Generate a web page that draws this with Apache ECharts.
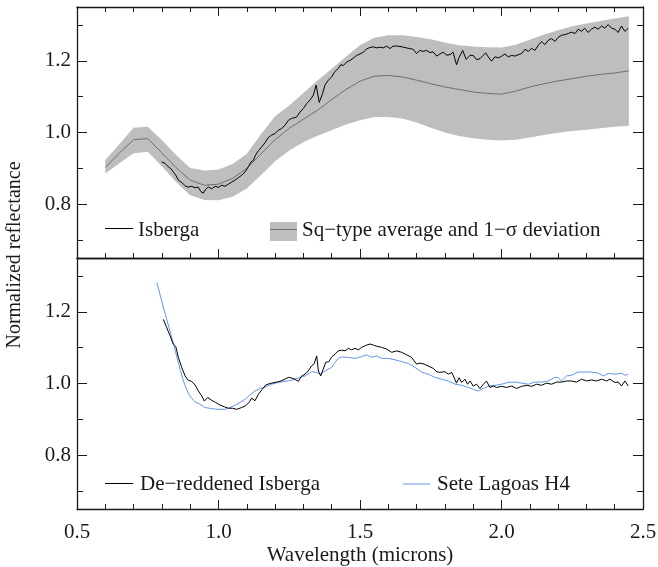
<!DOCTYPE html>
<html>
<head>
<meta charset="utf-8">
<script src="https://cdn.jsdelivr.net/npm/echarts@6/dist/echarts.min.js"></script>
<style>
html,body{margin:0;padding:0;background:#fff;}
#chart{width:658px;height:567px;}
</style>
</head>
<body>
<div id="chart"></div>
<script>
// ---- Sq-type average and 1-sigma band (top panel) ----
const sqWl = [0.60,0.65,0.70,0.75,0.80,0.85,0.90,0.95,1.00,1.05,1.10,1.15,1.20,1.25,1.30,1.35,1.40,1.45,1.50,1.55,1.60,1.65,1.70,1.75,1.80,1.85,1.90,1.95,2.00,2.05,2.10,2.15,2.20,2.25,2.30,2.35,2.40,2.45];
const sqMean = [0.902,0.943,0.980,0.983,0.943,0.902,0.867,0.853,0.856,0.872,0.900,0.940,0.980,1.012,1.037,1.062,1.092,1.120,1.143,1.157,1.159,1.155,1.146,1.136,1.127,1.120,1.113,1.109,1.107,1.115,1.127,1.136,1.144,1.150,1.157,1.162,1.166,1.172];
const sqUpper = [0.923,0.968,1.013,1.016,0.979,0.937,0.901,0.894,0.897,0.912,0.941,0.995,1.045,1.075,1.110,1.145,1.178,1.211,1.243,1.264,1.271,1.271,1.266,1.260,1.251,1.243,1.240,1.238,1.237,1.245,1.259,1.273,1.285,1.296,1.304,1.311,1.318,1.324];
const sqLower = [0.886,0.914,0.942,0.946,0.906,0.862,0.825,0.812,0.811,0.821,0.844,0.881,0.920,0.950,0.973,0.991,1.006,1.022,1.034,1.043,1.043,1.039,1.028,1.013,1.000,0.990,0.984,0.980,0.978,0.980,0.986,0.993,0.999,1.004,1.008,1.012,1.016,1.019];

// ---- Isberga (top panel) ----
const isbWl = [0.799,0.811,0.823,0.832,0.840,0.849,0.858,0.868,0.876,0.884,0.893,0.905,0.917,0.928,0.938,0.946,0.955,0.964,0.976,0.988,1.000,1.011,1.023,1.035,1.047,1.058,1.070,1.082,1.094,1.105,1.115,1.123,1.131,1.141,1.153,1.164,1.176,1.188,1.200,1.211,1.223,1.235,1.247,1.258,1.265,1.276,1.288,1.300,1.312,1.323,1.335,1.345,1.356,1.368,1.376,1.388,1.400,1.411,1.423,1.432,1.441,1.453,1.465,1.476,1.488,1.500,1.512,1.523,1.535,1.547,1.559,1.570,1.582,1.594,1.606,1.617,1.629,1.641,1.653,1.664,1.676,1.688,1.700,1.711,1.723,1.735,1.747,1.758,1.771,1.782,1.794,1.805,1.818,1.829,1.841,1.850,1.863,1.875,1.889,1.900,1.912,1.924,1.935,1.944,1.953,1.965,1.977,1.989,2.001,2.012,2.024,2.036,2.048,2.059,2.071,2.083,2.095,2.106,2.118,2.130,2.142,2.153,2.165,2.177,2.189,2.200,2.212,2.224,2.236,2.247,2.260,2.271,2.283,2.294,2.306,2.318,2.330,2.341,2.354,2.365,2.377,2.389,2.401,2.412,2.424,2.436,2.448];
const isbRefl = [0.918,0.914,0.904,0.899,0.890,0.881,0.867,0.862,0.856,0.850,0.848,0.850,0.846,0.848,0.835,0.831,0.842,0.848,0.843,0.850,0.847,0.853,0.850,0.856,0.862,0.867,0.874,0.881,0.890,0.904,0.918,0.922,0.937,0.949,0.960,0.971,0.986,0.993,0.997,1.006,1.011,1.020,1.034,1.039,1.034,1.043,1.057,1.067,1.081,1.090,1.104,1.132,1.084,1.109,1.132,1.146,1.155,1.170,1.178,1.189,1.187,1.196,1.201,1.207,1.215,1.219,1.224,1.233,1.237,1.239,1.236,1.238,1.236,1.241,1.234,1.241,1.241,1.240,1.238,1.236,1.234,1.232,1.220,1.229,1.226,1.229,1.223,1.225,1.213,1.219,1.224,1.216,1.217,1.224,1.189,1.209,1.229,1.204,1.215,1.215,1.203,1.206,1.215,1.222,1.211,1.199,1.211,1.208,1.213,1.219,1.211,1.215,1.213,1.217,1.220,1.232,1.226,1.235,1.229,1.243,1.254,1.245,1.257,1.262,1.254,1.265,1.271,1.273,1.276,1.280,1.276,1.288,1.282,1.291,1.279,1.288,1.294,1.288,1.297,1.291,1.301,1.291,1.288,1.279,1.297,1.282,1.291];

// ---- De-reddened Isberga (bottom panel) ----
const derWl = [0.805,0.817,0.829,0.840,0.849,0.858,0.870,0.882,0.893,0.905,0.917,0.929,0.941,0.950,0.962,0.976,0.990,1.005,1.021,1.035,1.049,1.064,1.082,1.094,1.108,1.117,1.129,1.141,1.155,1.167,1.182,1.200,1.217,1.235,1.247,1.259,1.270,1.282,1.294,1.306,1.317,1.329,1.338,1.347,1.353,1.361,1.370,1.379,1.390,1.400,1.412,1.423,1.435,1.447,1.459,1.470,1.482,1.494,1.506,1.523,1.535,1.547,1.559,1.576,1.594,1.612,1.630,1.647,1.665,1.682,1.700,1.712,1.727,1.741,1.759,1.771,1.782,1.800,1.812,1.824,1.830,1.841,1.850,1.859,1.871,1.880,1.889,1.900,1.912,1.924,1.936,1.947,1.959,1.971,1.983,2.000,2.018,2.036,2.053,2.071,2.089,2.106,2.124,2.142,2.159,2.177,2.195,2.212,2.230,2.247,2.265,2.283,2.300,2.318,2.336,2.354,2.371,2.383,2.401,2.412,2.424,2.436,2.448];
const derRefl = [1.179,1.156,1.133,1.110,1.103,1.073,1.045,1.021,1.009,1.006,0.996,0.979,0.965,0.951,0.961,0.953,0.947,0.940,0.935,0.931,0.931,0.928,0.933,0.937,0.947,0.959,0.952,0.970,0.984,0.996,1.000,1.003,1.006,1.012,1.017,1.015,1.012,1.006,1.021,1.026,1.035,1.049,1.055,1.077,1.035,1.021,1.040,1.059,1.061,1.074,1.082,1.091,1.093,1.091,1.098,1.094,1.098,1.094,1.101,1.107,1.110,1.107,1.104,1.101,1.096,1.087,1.091,1.087,1.080,1.073,1.054,1.057,1.054,1.049,1.042,1.033,1.031,1.033,1.026,1.031,1.021,1.001,1.016,1.003,1.012,0.998,1.007,0.993,0.998,0.986,0.998,1.007,0.989,0.993,0.989,0.992,0.989,0.993,0.986,0.992,0.995,0.992,0.998,0.995,1.001,0.998,1.004,1.004,1.007,1.007,1.004,1.012,1.007,1.010,1.007,1.012,1.007,1.012,1.003,1.004,0.993,1.007,0.993];

// ---- Sete Lagoas H4 (bottom panel) ----
const sltWl = [0.782,0.799,0.817,0.835,0.852,0.864,0.876,0.887,0.899,0.917,0.935,0.952,0.976,0.999,1.023,1.041,1.058,1.076,1.094,1.111,1.129,1.147,1.164,1.188,1.211,1.235,1.259,1.282,1.306,1.329,1.347,1.359,1.376,1.400,1.412,1.423,1.435,1.459,1.482,1.506,1.523,1.541,1.559,1.576,1.600,1.624,1.647,1.671,1.694,1.718,1.741,1.765,1.789,1.812,1.836,1.859,1.883,1.900,1.918,1.936,1.953,1.977,2.000,2.024,2.048,2.071,2.095,2.118,2.142,2.165,2.189,2.200,2.212,2.230,2.247,2.271,2.295,2.318,2.342,2.360,2.377,2.401,2.424,2.436,2.448];
const sltRefl = [1.282,1.231,1.179,1.128,1.077,1.040,1.007,0.984,0.965,0.949,0.942,0.933,0.930,0.928,0.928,0.933,0.939,0.947,0.956,0.968,0.979,0.986,0.990,0.998,1.003,1.006,1.009,1.015,1.021,1.033,1.031,1.026,1.035,1.045,1.059,1.070,1.074,1.073,1.070,1.075,1.080,1.073,1.077,1.070,1.070,1.066,1.061,1.056,1.045,1.032,1.026,1.017,1.012,1.007,0.998,0.995,0.989,0.984,0.979,0.986,0.993,0.995,0.998,1.003,1.004,1.001,0.998,1.004,1.004,1.007,1.017,1.017,1.007,1.021,1.023,1.032,1.032,1.032,1.029,1.021,1.028,1.026,1.029,1.023,1.026];

// ---- axis ticks ----
const xTickLabels = ['0.5','1.0','1.5','2.0','2.5'];
const yMajor = [0.8, 1.0, 1.2];
const yMinor = [0.7, 0.9, 1.1, 1.3];

const FONT = 'Liberation Serif';
const INK = '#1a1a1a';
const zip = (a, b) => a.map((v, i) => [v, b[i]]);

function xAx(grid, pos, opts) {
  return Object.assign({
    type: 'value', gridIndex: grid, position: pos, min: 0.5, max: 2.5, interval: 0.5,
    axisLine: { show: true, onZero: false, lineStyle: { color: INK, width: 1.3 } },
    axisTick: { show: true, inside: true, length: 9, lineStyle: { color: INK, width: 1 } },
    minorTick: { show: true, splitNumber: 5, length: 5, lineStyle: { color: INK, width: 1 } },
    axisLabel: { show: false },
    splitLine: { show: false }, minorSplitLine: { show: false }
  }, opts || {});
}
function yAx(grid, pos, values, len, showLine, showLabel) {
  return {
    type: 'value', gridIndex: grid, position: pos, min: 0.65, max: 1.35,
    axisLine: { show: showLine, onZero: false, lineStyle: { color: INK, width: 1.3 } },
    axisTick: { show: true, inside: true, length: len, customValues: values, lineStyle: { color: INK, width: 1 } },
    axisLabel: {
      show: showLabel, customValues: values, margin: 6,
      fontFamily: FONT, fontSize: 21, color: INK,
      formatter: v => v.toFixed(1)
    },
    splitLine: { show: false }
  };
}

const option = {
  backgroundColor: '#fff',
  animation: false,
  grid: [
    { left: 77, right: 15, top: 7, height: 251, outerBoundsMode: 'none', containLabel: false },
    { left: 77, right: 15, top: 258, height: 251, outerBoundsMode: 'none', containLabel: false }
  ],
  xAxis: [
    xAx(0, 'bottom'),
    xAx(0, 'top'),
    xAx(1, 'bottom', {
      axisLabel: { show: true, margin: 13, fontFamily: FONT, fontSize: 21, color: INK,
        formatter: v => xTickLabels[Math.round((v - 0.5) / 0.5)] },
      name: 'Wavelength (microns)', nameLocation: 'middle', nameGap: 36,
      nameTextStyle: { fontFamily: FONT, fontSize: 21, color: INK }
    }),
    xAx(1, 'top', { axisTick: { show: false }, minorTick: { show: false } })
  ],
  yAxis: [
    yAx(0, 'left', yMajor, 10, true, true),
    yAx(0, 'left', yMinor, 6, false, false),
    yAx(0, 'right', yMajor, 10, true, false),
    yAx(0, 'right', yMinor, 6, false, false),
    yAx(1, 'left', yMajor, 10, true, true),
    yAx(1, 'left', yMinor, 6, false, false),
    yAx(1, 'right', yMajor, 10, true, false),
    yAx(1, 'right', yMinor, 6, false, false)
  ],
  series: [
    {
      name: 'Sq-type 1-sigma', type: 'custom', xAxisIndex: 0, yAxisIndex: 0, z: 1, silent: true,
      data: sqWl.map((w, i) => [w, sqLower[i], sqUpper[i]]),
      encode: { x: 0, y: [1, 2] },
      renderItem: function (params, api) {
        if (params.dataIndex !== 0) return null;
        const pts = [];
        for (let i = 0; i < sqWl.length; i++) pts.push(api.coord([sqWl[i], sqUpper[i]]));
        for (let i = sqWl.length - 1; i >= 0; i--) pts.push(api.coord([sqWl[i], sqLower[i]]));
        return { type: 'polygon', shape: { points: pts }, style: { fill: '#bebebe', stroke: null } };
      }
    },
    {
      name: 'Sq-type average', type: 'line', xAxisIndex: 0, yAxisIndex: 0, z: 3,
      data: zip(sqWl, sqMean), showSymbol: false, symbol: 'none',
      lineStyle: { color: '#6f6f6f', width: 1 }
    },
    {
      name: 'Isberga', type: 'line', xAxisIndex: 0, yAxisIndex: 0, z: 4,
      data: zip(isbWl, isbRefl), showSymbol: false, symbol: 'none',
      lineStyle: { color: '#000', width: 1 }
    },
    {
      name: 'Sete Lagoas H4', type: 'line', xAxisIndex: 2, yAxisIndex: 4, z: 3,
      data: zip(sltWl, sltRefl), showSymbol: false, symbol: 'none',
      lineStyle: { color: '#6495ed', width: 1 }
    },
    {
      name: 'De-reddened Isberga', type: 'line', xAxisIndex: 2, yAxisIndex: 4, z: 4,
      data: zip(derWl, derRefl), showSymbol: false, symbol: 'none',
      lineStyle: { color: '#000', width: 1 }
    }
  ],
  graphic: [
    { type: 'text', z: 100, x: 15, y: 255, rotation: Math.PI / 2,
      style: { text: 'Normalized reflectance', font: '20px "Liberation Serif"', fill: INK, align: 'center', verticalAlign: 'middle' } },
    // top legend
    { type: 'line', z: 100, shape: { x1: 105, y1: 228.5, x2: 133, y2: 228.5 }, style: { stroke: '#000', lineWidth: 1 } },
    { type: 'text', z: 100, x: 138, y: 230, style: { text: 'Isberga', font: '21px "Liberation Serif"', fill: INK, verticalAlign: 'middle' } },
    { type: 'rect', z: 100, shape: { x: 270, y: 222, width: 27, height: 19 }, style: { fill: '#bebebe' } },
    { type: 'line', z: 101, shape: { x1: 270, y1: 229.5, x2: 297, y2: 229.5 }, style: { stroke: '#6f6f6f', lineWidth: 1 } },
    { type: 'text', z: 100, x: 302, y: 230, style: { text: 'Sq\u2212type average and 1\u2212\u03c3 deviation', font: '21px "Liberation Serif"', fill: INK, verticalAlign: 'middle' } },
    // bottom legend
    { type: 'line', z: 100, shape: { x1: 105, y1: 483.5, x2: 133, y2: 483.5 }, style: { stroke: '#000', lineWidth: 1 } },
    { type: 'text', z: 100, x: 140, y: 484, style: { text: 'De\u2212reddened Isberga', font: '21px "Liberation Serif"', fill: INK, verticalAlign: 'middle' } },
    { type: 'line', z: 100, shape: { x1: 403, y1: 484, x2: 430, y2: 484 }, style: { stroke: '#6495ed', lineWidth: 1 } },
    { type: 'text', z: 100, x: 437, y: 484, style: { text: 'Sete Lagoas H4', font: '21px "Liberation Serif"', fill: INK, verticalAlign: 'middle' } }
  ]
};

const chart = echarts.init(document.getElementById('chart'), null, { renderer: 'canvas' });
chart.setOption(option);
</script>
</body>
</html>
